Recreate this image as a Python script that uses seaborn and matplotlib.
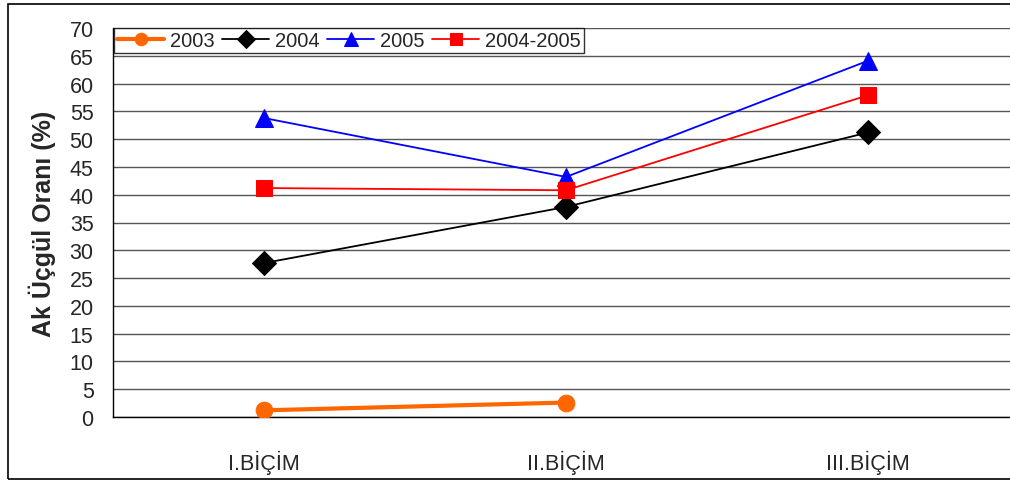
import matplotlib
matplotlib.use("Agg")
import matplotlib.pyplot as plt
import seaborn as sns
import pandas as pd
import numpy as np
from matplotlib.patches import Rectangle

categories = ["I.BİÇİM", "II.BİÇİM", "III.BİÇİM"]
s2003 = [1.2, 2.6, np.nan]
s2004 = [27.7, 37.8, 51.2]
s2005 = [53.8, 43.2, 64.1]
s2004_2005 = [41.2, 40.8, 57.9]
series_names = ["2003", "2004", "2005", "2004-2005"]
yticks = list(range(0, 75, 5))

sns.set_theme(style="white")
plt.rcParams['font.family'] = ['Liberation Sans', 'DejaVu Sans']

W, H = 1010, 485
fig = plt.figure(figsize=(W / 100, H / 100), dpi=100)
ax_left, ax_right = 113, 1019
ax_top, ax_bottom = 29, 418
ax = fig.add_axes([ax_left / W, 1 - ax_bottom / H, (ax_right - ax_left) / W, (ax_bottom - ax_top) / H])

styles = {
    "2003": dict(color="#FF6600", marker="o", markersize=12, linewidth=3.0),
    "2004": dict(color="black", marker="D", markersize=12, linewidth=1.3),
    "2005": dict(color="#0000FF", marker="^", markersize=13, linewidth=1.3),
    "2004-2005": dict(color="#FF0000", marker="s", markersize=11.5, linewidth=1.3),
}
values = {"2003": s2003, "2004": s2004, "2005": s2005, "2004-2005": s2004_2005}

xpos = np.arange(len(categories))
for name in series_names:
    df = pd.DataFrame({"x": xpos, "y": values[name]}).dropna()
    st = styles[name]
    sns.lineplot(data=df, x="x", y="y", ax=ax, color=st["color"], marker=st["marker"],
                 markersize=st["markersize"], linewidth=st["linewidth"],
                 markeredgecolor=st["color"], label=name, zorder=3)

ax.set_xlim(-0.5, 2.5)
ax.set_ylim(0, 70)
ax.set_yticks(yticks)
ax.set_yticklabels([str(v) for v in yticks], fontsize=15.5)
ax.set_xticks(xpos)
ax.set_xticklabels(categories, fontsize=15.5)
ax.set_xticks(np.arange(-0.5, 3.0, 1.0), minor=True)
ax.tick_params(axis="x", which="major", length=0, pad=24)
ax.tick_params(axis="x", which="minor", length=7, width=1, color="black", direction="out")
ax.tick_params(axis="y", which="major", length=7, width=1, color="black", direction="out", pad=7)
ax.yaxis.grid(True, color="#555555", linewidth=1.0)
ax.xaxis.grid(False)
ax.set_axisbelow(True)
for sp in ["top", "right"]:
    ax.spines[sp].set_visible(False)
for sp in ["left", "bottom"]:
    ax.spines[sp].set_color("black")
    ax.spines[sp].set_linewidth(1.0)
ax.set_xlabel("")
ax.set_ylabel("Ak Üçgül Oranı (%)", fontsize=18, fontweight="bold", labelpad=10)

leg = ax.legend(loc="upper left", ncol=4, fontsize=14.5, frameon=True, fancybox=False,
                edgecolor="black", handlelength=2.3, columnspacing=0.4, handletextpad=0.3,
                borderpad=0.15, borderaxespad=0.0, markerscale=0.75,
                bbox_to_anchor=(0.0015, 1.0))
leg.get_frame().set_linewidth(1.0)

fig.patches.append(Rectangle((8 / W, 1 - 480 / H), 1.2, (480 - 5) / H, transform=fig.transFigure,
                             fill=False, edgecolor="black", linewidth=1.2))

fig.savefig("out.png", dpi=100)
